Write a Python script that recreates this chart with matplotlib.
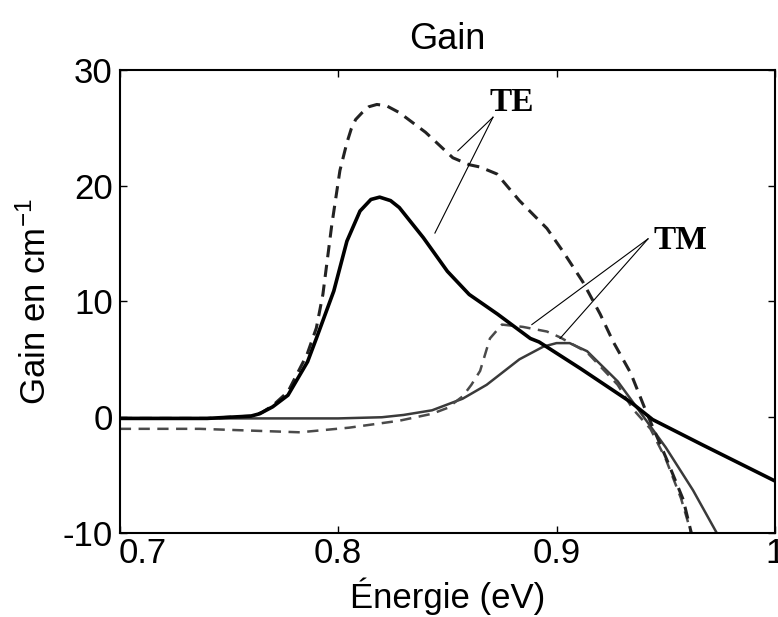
import matplotlib.pyplot as plt
from matplotlib.transforms import ScaledTranslation

plt.rcParams['font.family'] = ['Liberation Sans', 'DejaVu Sans']
plt.rcParams['mathtext.default'] = 'regular'
plt.rcParams['axes.unicode_minus'] = False

# Energy (eV) / gain (cm^-1)
te_solid_e = [0.70, 0.74, 0.76, 0.764, 0.77, 0.777, 0.786, 0.790, 0.798, 0.804, 0.810,
              0.815, 0.819, 0.824, 0.828, 0.839, 0.850, 0.860, 0.873, 0.888, 0.892,
              0.911, 0.934, 0.944, 0.967, 1.0]
te_solid_g = [-0.1, -0.1, 0.1, 0.3, 0.9, 1.9, 4.8, 6.8, 10.9, 15.2, 17.8,
              18.8, 19.0, 18.7, 18.1, 15.5, 12.6, 10.6, 8.9, 6.8, 6.5,
              4.2, 1.3, -0.2, -2.4, -5.5]

te_dash_e = [0.70, 0.74, 0.76, 0.765, 0.77, 0.777, 0.7857, 0.790, 0.793, 0.797, 0.8008,
             0.804, 0.806, 0.808, 0.811, 0.814, 0.8177, 0.822, 0.828, 0.840, 0.8525, 0.860,
             0.865, 0.8727, 0.883, 0.8956, 0.903, 0.912, 0.920, 0.926, 0.934, 0.941,
             0.9506, 0.958, 0.962]
te_dash_g = [-0.1, -0.1, 0.1, 0.4, 1.0, 2.2, 5.4, 7.7, 10.6, 16.5, 21.3,
             23.7, 24.9, 25.7, 26.3, 26.8, 27.0, 26.9, 26.3, 24.6, 22.4, 21.8,
             21.6, 21.0, 18.7, 16.3, 14.3, 11.7, 8.9, 6.5, 3.8, 0.5,
             -3.7, -7.1, -10.2]

tm_solid_e = [0.70, 0.76, 0.80, 0.82, 0.830, 0.843, 0.850, 0.857, 0.868, 0.883, 0.894,
              0.900, 0.906, 0.914, 0.928, 0.935, 0.940, 0.950, 0.9625, 0.974]
tm_solid_g = [-0.1, -0.1, -0.1, 0.0, 0.2, 0.6, 1.1, 1.6, 2.8, 5.0, 6.1,
              6.4, 6.4, 5.7, 3.1, 1.3, 0.0, -2.6, -6.3, -10.2]

tm_dash_e = [0.70, 0.7366, 0.7825, 0.805, 0.828, 0.843, 0.850, 0.857, 0.861, 0.865, 0.8695,
             0.875, 0.8846, 0.8956, 0.9016, 0.914, 0.928, 0.935, 0.943, 0.950, 0.957, 0.962]
tm_dash_g = [-1.0, -1.0, -1.3, -0.9, -0.3, 0.3, 0.8, 1.8, 2.8, 4.0, 6.8,
             8.0, 7.8, 7.4, 6.9, 5.6, 2.8, 0.7, -1.0, -3.6, -7.0, -10.2]

te_label_xy = (0.8709, 25.9)
te_targets = [(0.8548, 23.0), (0.8443, 15.9)]
tm_label_xy = (0.9419, 15.4)
tm_targets = [(0.8887, 8.0), (0.9016, 6.8)]

fig = plt.figure(figsize=(7.78, 6.17), dpi=100)
ax = fig.add_axes([0.154, 0.136, 0.842, 0.751])

ax.plot(tm_solid_e, tm_solid_g, color='#3a3a3a', lw=1.8)
ax.plot(tm_dash_e, tm_dash_g, color='#4a4a4a', lw=1.8, dashes=(4.5, 3))
ax.plot(te_dash_e, te_dash_g, color='#222222', lw=2.2, dashes=(4, 2.5))
ax.plot(te_solid_e, te_solid_g, color='black', lw=2.6)

for xy in te_targets:
    ax.plot([te_label_xy[0], xy[0]], [te_label_xy[1], xy[1]], color='black', lw=0.8)
for xy in tm_targets:
    ax.plot([tm_label_xy[0], xy[0]], [tm_label_xy[1], xy[1]], color='black', lw=0.8)

serif = ['Liberation Serif', 'DejaVu Serif']
ax.text(0.8695, 25.8, 'TE', family=serif, fontweight='bold', fontsize=24,
        ha='left', va='bottom')
ax.text(0.9445, 15.3, 'TM', family=serif, fontweight='bold', fontsize=24,
        ha='left', va='center')

ax.set_xlim(0.7, 1.0)
ax.set_ylim(-10, 30)
ax.set_xticks([0.7, 0.8, 0.9, 1.0])
ax.set_xticklabels(['0.7', '0.8', '0.9', '1'])
ax.set_yticks([-10, 0, 10, 20, 30])
ax.tick_params(direction='in', length=5, width=1, top=True, right=True, labelsize=25)
ax.tick_params(axis='x', pad=3)
ax.tick_params(axis='y', pad=5)
for s in ax.spines.values():
    s.set_linewidth(1.5)

# first x label sits right of its tick, as in the original
lbl = ax.get_xticklabels()[0]
lbl.set_transform(lbl.get_transform() + ScaledTranslation(23 / 100, 0, fig.dpi_scale_trans))

ax.set_title('Gain', fontsize=26, pad=15)
ax.set_xlabel('Énergie (eV)', fontsize=25)
ax.set_ylabel('Gain en cm$^{-1}$', fontsize=25)
ax.xaxis.set_label_coords(0.5, -0.095)
ax.yaxis.set_label_coords(-0.102, 0.5)

fig.savefig('out.png', dpi=100)
